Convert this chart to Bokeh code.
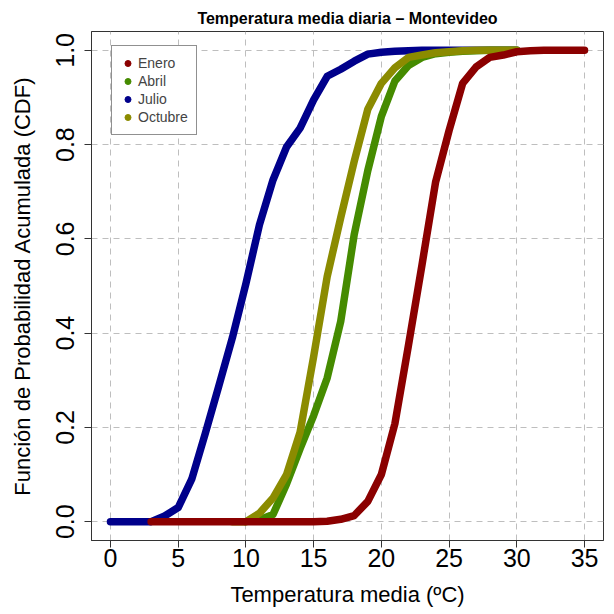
import math
from bokeh.plotting import figure
from bokeh.models import (Range1d, FixedTicker, PrintfTickFormatter, Legend,
                          LegendItem, ColumnDataSource)
from bokeh.embed import file_html
from bokeh.resources import INLINE

# ---------------- data ----------------
temp_julio = [0, 1, 2, 3, 4, 5, 6, 7, 8, 9, 10, 11, 12, 13, 14, 15, 16, 17, 18, 19,
              20, 21, 22, 23, 24, 25, 26, 27, 28, 29, 30]
cdf_julio = [0.0, 0.0, 0.0, 0.0, 0.012, 0.03, 0.09, 0.187, 0.288, 0.39, 0.505, 0.63,
             0.725, 0.795, 0.835, 0.895, 0.945, 0.96, 0.977, 0.992, 0.996, 0.998, 0.999,
             1.0, 1.0, 1.0, 1.0, 1.0, 1.0, 1.0, 1.0]

temp_abril = [10, 11, 12, 13, 14, 15, 16, 17, 18, 19, 20, 21, 22, 23, 24, 25, 26, 27,
              28, 29, 30]
cdf_abril = [0.0, 0.004, 0.015, 0.08, 0.155, 0.225, 0.305, 0.425, 0.61, 0.745, 0.86,
             0.935, 0.968, 0.985, 0.993, 0.996, 0.998, 0.999, 1.0, 1.0, 1.0]

temp_octubre = [9, 10, 11, 12, 13, 14, 15, 16, 17, 18, 19, 20, 21, 22, 23, 24, 25, 26,
                27, 28, 29, 30]
cdf_octubre = [0.0, 0.0, 0.018, 0.05, 0.1, 0.19, 0.35, 0.52, 0.645, 0.765, 0.875, 0.93,
               0.963, 0.985, 0.99, 0.995, 0.997, 0.999, 1.0, 1.0, 1.0, 1.0]

temp_enero = [3, 4, 5, 6, 7, 8, 9, 10, 11, 12, 13, 14, 15, 16, 17, 18, 19, 20, 21, 22,
              23, 24, 25, 26, 27, 28, 29, 30, 31, 32, 33, 34, 35]
cdf_enero = [0.0, 0.0, 0.0, 0.0, 0.0, 0.0, 0.0, 0.0, 0.0, 0.0, 0.0, 0.0, 0.0, 0.001,
             0.005, 0.013, 0.043, 0.1, 0.208, 0.374, 0.545, 0.72, 0.83, 0.93, 0.965,
             0.985, 0.99, 0.997, 0.999, 1.0, 1.0, 1.0, 1.0]

series_names = ["Enero", "Abril", "Julio", "Octubre"]
series_colors = {"Enero": "#8B0000", "Abril": "#458B00", "Julio": "#00008B",
                 "Octubre": "#8B8B00"}

x_ticks = [0, 5, 10, 15, 20, 25, 30, 35]
y_ticks = [0.0, 0.2, 0.4, 0.6, 0.8, 1.0]

title_text = "Temperatura media diaria \u2013 Montevideo"
x_label = "Temperatura media (\u00baC)"
y_label = "Funci\u00f3n de Probabilidad Acumulada (CDF)"

FONT = "Liberation Sans"

# ---------------- figure ----------------
p = figure(width=614, height=614, output_backend="svg", toolbar_location=None,
           x_range=Range1d(-1.4, 36.4), y_range=Range1d(-0.04, 1.04),
           min_border_left=91, min_border_right=11, min_border_top=31,
           min_border_bottom=74, title=title_text)
p.background_fill_color = "white"
p.border_fill_color = "white"
p.outline_line_color = "#333333"
p.outline_line_width = 1

p.title.align = "center"
p.title.text_font = FONT
p.title.text_font_size = "16px"
p.title.text_font_style = "bold"
p.title.text_color = "black"
p.title.standoff = 10

# grid
for g in (p.xgrid[0], p.ygrid[0]):
    g.grid_line_color = "#bebebe"
    g.grid_line_dash = "6 5"
    g.grid_line_width = 1

# axes
for ax in (p.xaxis[0], p.yaxis[0]):
    ax.axis_line_color = "#333333"
    ax.major_tick_line_color = "#333333"
    ax.major_tick_out = 7
    ax.major_tick_in = 0
    ax.minor_tick_line_color = None
    ax.major_label_text_font = FONT
    ax.major_label_text_font_size = "25px"
    ax.major_label_text_color = "black"
    ax.axis_label_text_font = FONT
    ax.axis_label_text_font_size = "22px"
    ax.axis_label_text_font_style = "normal"
    ax.axis_label_text_color = "black"

p.xaxis.ticker = FixedTicker(ticks=x_ticks)
p.yaxis.ticker = FixedTicker(ticks=y_ticks)
p.yaxis.formatter = PrintfTickFormatter(format="%.1f")
p.yaxis.major_label_orientation = "vertical"
p.xaxis.major_label_standoff = 1
p.yaxis.major_label_standoff = 10
p.xaxis.axis_label = x_label
p.yaxis.axis_label = y_label
p.xaxis.axis_label_standoff = 12
p.yaxis.axis_label_standoff = 19

# lines (draw order: Julio, Abril, Octubre, Enero)
line_kw = dict(line_width=7.5, line_cap="round", line_join="round")
p.line(temp_julio, cdf_julio, line_color=series_colors["Julio"], **line_kw)
p.line(temp_abril, cdf_abril, line_color=series_colors["Abril"], **line_kw)
p.line(temp_octubre, cdf_octubre, line_color=series_colors["Octubre"], **line_kw)
p.line(temp_enero, cdf_enero, line_color=series_colors["Enero"], **line_kw)

# legend (dot markers, no visible data)
items = []
for name in series_names:
    src = ColumnDataSource(data=dict(x=[math.nan], y=[math.nan]))
    r = p.scatter("x", "y", source=src, size=7, marker="circle",
                  fill_color=series_colors[name], line_color=series_colors[name])
    items.append(LegendItem(label=name, renderers=[r]))

legend = Legend(items=items, location=(20, 405), margin=0,
                padding=8, spacing=0, glyph_width=15, glyph_height=18,
                label_height=18, label_standoff=3,
                label_text_font=FONT, label_text_font_size="14px",
                border_line_color="#222222", border_line_width=1,
                background_fill_color="white", background_fill_alpha=1.0)
p.add_layout(legend)

open("out.html", "w").write(file_html(p, INLINE))
